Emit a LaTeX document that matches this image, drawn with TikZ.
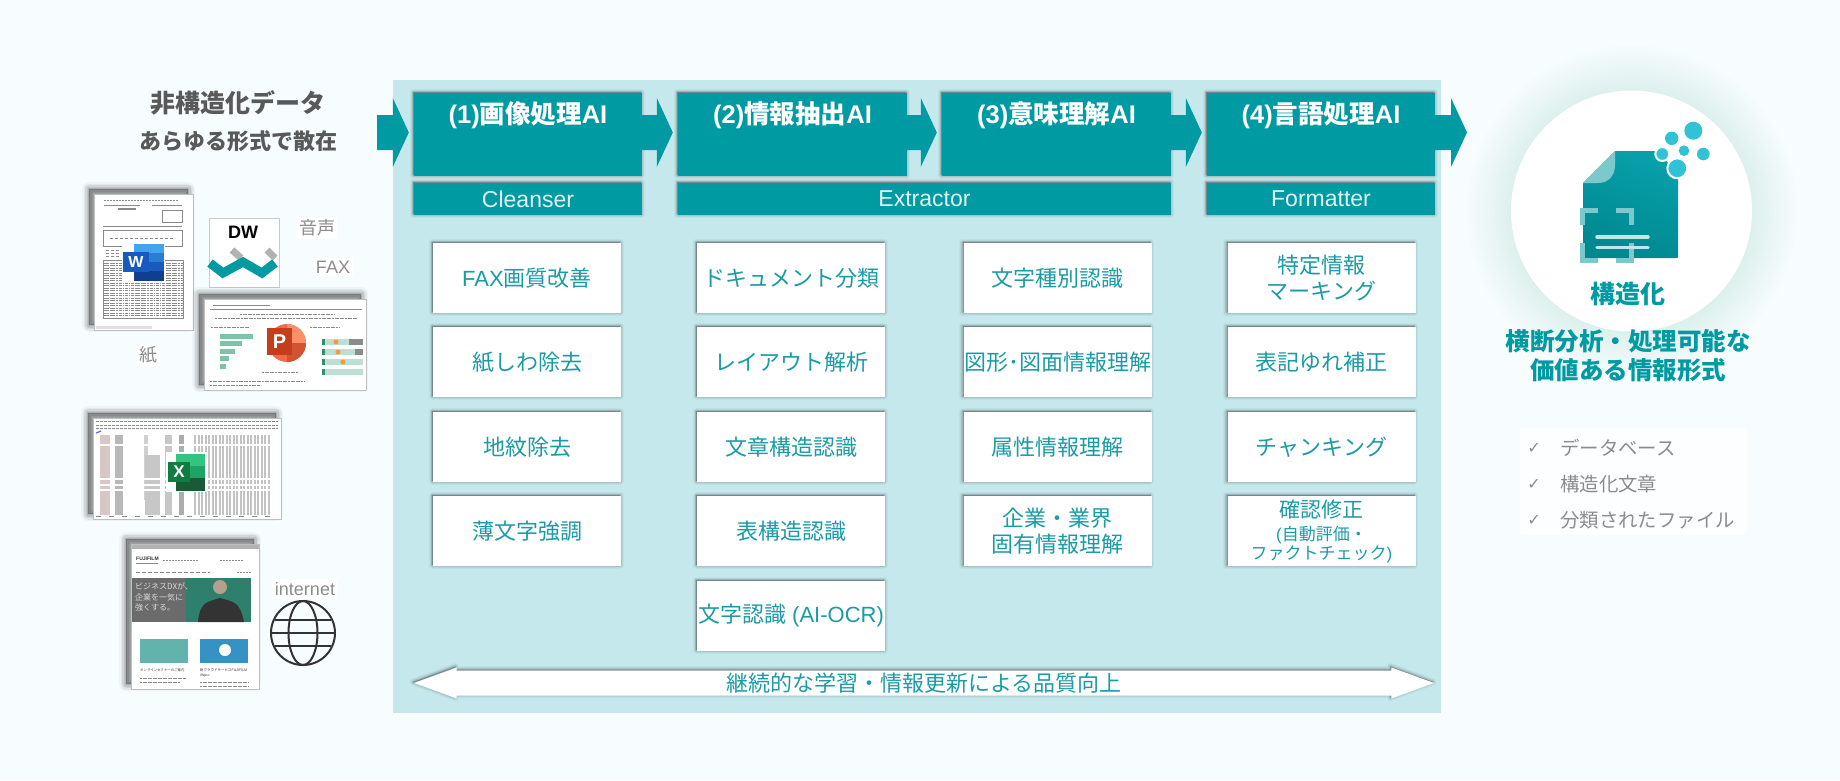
\documentclass[tikz,border=0pt]{standalone}
\usepackage{xcolor}
\usepackage{fontspec}
\usepackage{tikz}
\usetikzlibrary{calc}
\usetikzlibrary{shapes.arrows}
\usetikzlibrary{shadows}
\setmainfont{Liberation Sans}
\newfontfamily\cjk{Noto Sans CJK JP}
\newfontfamily\sym{DejaVu Sans}
\newcommand\ja[1]{{\cjk #1}}
\newcommand\fs[1]{\fontsize{#1}{#1}\selectfont\baselineskip=1.15\baselineskip}

\definecolor{bgtint}{HTML}{F7FCFE}
\definecolor{panelc}{HTML}{C5E8EC}
\definecolor{tealc}{HTML}{009AA3}
\definecolor{tealtxt}{HTML}{1B9BA5}
\definecolor{graytxt}{HTML}{8C8C8C}
\definecolor{darktxt}{HTML}{595959}
\definecolor{glowin}{HTML}{DCF0EC}
\definecolor{foldc}{HTML}{7CC9CB}
\definecolor{dotc}{HTML}{2FC3D5}
\definecolor{inkc}{HTML}{8A8A8A}
\definecolor{wdA}{HTML}{41A5EE}
\definecolor{wdB}{HTML}{2B7CD3}
\definecolor{wdC}{HTML}{185ABD}
\definecolor{wdD}{HTML}{103F91}
\definecolor{xlA}{HTML}{33C481}
\definecolor{xlB}{HTML}{21A366}
\definecolor{xlC}{HTML}{107C41}
\definecolor{xlD}{HTML}{185C37}
\definecolor{ppA}{HTML}{ED6C47}
\definecolor{ppB}{HTML}{FF8F6B}
\definecolor{ppC}{HTML}{D35230}
\definecolor{ppD}{HTML}{C43E1C}
\definecolor{barA}{HTML}{7CC4A8}
\definecolor{barB}{HTML}{BBDFD2}
\definecolor{barC}{HTML}{2F8F6F}
\definecolor{heroA}{HTML}{6B6B6B}
\definecolor{heroB}{HTML}{2F7F6D}
\definecolor{imgA}{HTML}{62B3AC}
\definecolor{imgB}{HTML}{3493C4}

\pgfdeclareradialshading{glowshade}{\pgfpointorigin}{color(0bp)=(glowin);color(18bp)=(glowin);color(25bp)=(bgtint);color(50bp)=(bgtint)}

\tikzstyle{every node}=[inner sep=0pt]
\tikzstyle{softshadow}=[
  general shadow={draw=black,fill=black,line join=round,line width=7pt,opacity=0.03,shadow xshift=-1pt,shadow yshift=1pt},
  general shadow={draw=black,fill=black,line join=round,line width=5pt,opacity=0.05,shadow xshift=-1pt,shadow yshift=1pt},
  general shadow={draw=black,fill=black,line join=round,line width=3pt,opacity=0.07,shadow xshift=-1pt,shadow yshift=1pt},
  general shadow={draw=black,fill=black,line join=round,line width=1.5pt,opacity=0.09,shadow xshift=-1pt,shadow yshift=1pt}]
\tikzstyle{pageshadow}=[
  general shadow={draw=black,fill=black,line join=round,line width=14pt,opacity=0.03,shadow xshift=-5pt,shadow yshift=5pt},
  general shadow={draw=black,fill=black,line join=round,line width=11pt,opacity=0.05,shadow xshift=-5pt,shadow yshift=5pt},
  general shadow={draw=black,fill=black,line join=round,line width=8pt,opacity=0.07,shadow xshift=-5pt,shadow yshift=5pt},
  general shadow={draw=black,fill=black,line join=round,line width=5pt,opacity=0.08,shadow xshift=-5pt,shadow yshift=5pt},
  general shadow={draw=black,fill=black,line join=round,line width=2pt,opacity=0.1,shadow xshift=-5pt,shadow yshift=5pt}]
\tikzstyle{aibox}=[rectangle, fill=tealc, softshadow, minimum height=83pt]
\tikzstyle{aititle}=[text=white, font=\fs{25.5}\bfseries]
\tikzstyle{subbox}=[rectangle, fill=tealc, softshadow, minimum height=32pt, text=white!88!tealc, font=\fs{23}]
\tikzstyle{stepbox}=[rectangle, fill=white, softshadow, minimum width=188pt, minimum height=70pt, text=tealtxt, align=center, font=\fs{22}]
\tikzstyle{flowfill}=[fill=tealc]
\tikzstyle{srclabel}=[text=graytxt, font=\fs{18}, fill=white, inner sep=3pt]
\tikzstyle{docpage}=[rectangle, fill=white, draw=black!25, line width=0.6pt, pageshadow]
\tikzstyle{inkline}=[draw=inkc, line width=0.7pt]
\tikzstyle{listlabel}=[anchor=west, text=graytxt, font=\fs{19.4}]
\tikzstyle{listcheck}=[text=graytxt, font=\fs{16}]

\newcommand\flowarrow[2]{
  \path[flowfill] ($(#1)+(0,-19.5)$) -- ($(#2)+(-21,-19.5)$) -- ($(#2)+(-21,-36.5)$) -- ($(#2)+(-5,-2)$)
    -- ($(#2)+(-21,32.5)$) -- ($(#2)+(-21,15.5)$) -- ($(#1)+(0,15.5)$) -- cycle;
}

\begin{document}
\begin{tikzpicture}[x=1pt,y=-1pt]
  \def\colA{527}
  \def\colB{791}
  \def\colC{1057.5}
  \def\colD{1321.5}
  \def\rowA{278}
  \def\rowB{362}
  \def\rowC{447}
  \def\rowD{531}
  \def\rowE{616}

  \useasboundingbox (0,0) rectangle (1840,780);
  \fill[bgtint] (0,0) rectangle (1840,780);

  \coordinate (orb) at (1631.5,211);
  \shade[shading=glowshade] (orb) circle (167pt);
  \fill[panelc] (393,80) rectangle (1441,713);

  \node[text=darktxt, font=\fs{25}\cjk\bfseries] (srctitle) at (238,103) {非構造化データ};
  \node[text=darktxt, font=\fs{22}\cjk\bfseries] (srcsub) at (238,141) {あらゆる形式で散在};

  \node[aibox, minimum width=228pt] (hdr1) at (528,134.5) {};
  \node[aibox, minimum width=229pt] (hdr2) at (792.5,134.5) {};
  \node[aibox, minimum width=229pt] (hdr3) at (1056.5,134.5) {};
  \node[aibox, minimum width=228pt] (hdr4) at (1321,134.5) {};

  \coordinate (srcin) at (377,134.5);
  \coordinate (outpt) at (1472,134.5);
  \flowarrow{srcin}{hdr1.west}
  \flowarrow{hdr1.east}{hdr2.west}
  \flowarrow{hdr2.east}{hdr3.west}
  \flowarrow{hdr3.east}{hdr4.west}
  \flowarrow{hdr4.east}{outpt}

  \node[aititle] (ttl1) at (528,115) {(1)\ja{画像処理}AI};
  \node[aititle] (ttl2) at (792.5,115) {(2)\ja{情報抽出}AI};
  \node[aititle] (ttl3) at (1056.5,115) {(3)\ja{意味理解}AI};
  \node[aititle] (ttl4) at (1321,115) {(4)\ja{言語処理}AI};

  \node[subbox, minimum width=228pt] (cleanser) at (528,199) {Cleanser};
  \node[subbox, minimum width=493pt] (extractor) at (924.5,199) {Extractor};
  \node[subbox, minimum width=228pt] (formatter) at (1321,199) {Formatter};

  \node[stepbox] (a1) at (\colA,\rowA) {FAX\ja{画質改善}};
  \node[stepbox] (a2) at (\colA,\rowB) {\ja{紙しわ除去}};
  \node[stepbox] (a3) at (\colA,\rowC) {\ja{地紋除去}};
  \node[stepbox] (a4) at (\colA,\rowD) {\ja{薄文字強調}};

  \node[stepbox] (b1) at (\colB,\rowA) {\ja{ドキュメント分類}};
  \node[stepbox] (b2) at (\colB,\rowB) {\ja{レイアウト解析}};
  \node[stepbox] (b3) at (\colB,\rowC) {\ja{文章構造認識}};
  \node[stepbox] (b4) at (\colB,\rowD) {\ja{表構造認識}};
  \node[stepbox] (b5) at (\colB,\rowE) {\ja{文字認識} (AI-OCR)};

  \node[stepbox] (c1) at (\colC,\rowA) {\ja{文字種別認識}};
  \node[stepbox] (c2) at (\colC,\rowB) {\ja{図形･図面情報理解}};
  \node[stepbox] (c3) at (\colC,\rowC) {\ja{属性情報理解}};
  \node[stepbox] (c4) at (\colC,\rowD) {\ja{企業・業界}\\\ja{固有情報理解}};

  \node[stepbox] (d1) at (\colD,\rowA) {\ja{特定情報}\\\ja{マーキング}};
  \node[stepbox] (d2) at (\colD,\rowB) {\ja{表記ゆれ補正}};
  \node[stepbox] (d3) at (\colD,\rowC) {\ja{チャンキング}};
  \node[stepbox] (d4) at (\colD,\rowD) {};
  \node[text=tealtxt, font=\fs{21}] (d4top) at (\colD,509) {\ja{確認修正}};
  \node[text=tealtxt, font=\fs{17}] (d4mid) at (\colD,535) {(\ja{自動評価・}};
  \node[text=tealtxt, font=\fs{17}] (d4low) at (\colD,554) {\ja{ファクトチェック})};

  \node[double arrow, fill=white, softshadow, minimum width=31pt, minimum height=1020pt,
    double arrow head extend=2.5pt, double arrow tip angle=40, text=tealtxt, font=\fs{22}] (learn) at (924,683)
    {\ja{継続的な学習・情報更新による品質向上}};

  \node[docpage, minimum width=99pt, minimum height=136pt] (wordpage) at (143.5,262) {};
  \draw[inkline, dash pattern=on 2pt off 1pt] (104,200) -- (178,200);
  \draw[inkline] (104,205) -- (140,205);
  \draw[inkline] (152,205) -- (182,205);
  \draw[inkline, line width=1.5pt] (118,209) -- (136,209);
  \draw[inkline] (162,210) rectangle (182,222);
  \draw[inkline] (103,226) -- (182,226);
  \draw[inkline] (103,230) rectangle (182,246);
  \draw[inkline, dash pattern=on 3pt off 2pt] (110,238) -- (175,238);
  \foreach \yy in {250,253,256}
    \draw[inkline, dash pattern=on 3pt off 2pt] (106,\yy) -- (120,\yy);
  \foreach \yy in {263,265.5,...,317}
    \draw[inkline, line width=1pt, dash pattern=on 1.5pt off 0.7pt on 3pt off 1pt] (104,\yy) -- (183,\yy);
  \draw[inkline] (103,260) rectangle (183,318);
  \fill[black!12] (96,326) rectangle (152,329);

  \fill[white] (122,242) rectangle (165,282);
  \fill[wdA] (134,244) rectangle (164,253);
  \fill[wdB] (134,253) rectangle (164,262);
  \fill[wdC] (134,262) rectangle (164,271);
  \fill[wdD] (134,271) rectangle (164,281);
  \node[rectangle, fill=wdC, minimum width=26pt, minimum height=20pt, text=white, font=\fs{16}\bfseries] (wordicon) at (136,262) {W};

  \node[rectangle, fill=white, draw=black!20, line width=0.6pt, minimum width=70pt, minimum height=69pt] (dwlogo) at (244,252.5) {};
  \node[font=\fs{18}\bfseries] (dwtext) at (243,232) {DW};
  \coordinate (dwa) at (210,263);
  \coordinate (dwb) at (223,273);
  \coordinate (dwc) at (243,262);
  \coordinate (dwd) at (262,273);
  \coordinate (dwe) at (275,263);
  \draw[black!30, line width=7pt] (232,250) -- (241,258);
  \draw[black!30, line width=7pt] (267,250) -- (275,258);
  \draw[tealc, line width=9pt, line join=miter] (dwa) -- (dwb) -- (dwc) -- (dwd) -- (dwe);

  \node[srclabel] (voice) at (317,228) {\ja{音声}};
  \node[srclabel] (fax) at (333,267) {FAX};
  \node[srclabel] (paper) at (148,355) {\ja{紙}};

  \node[docpage, minimum width=162pt, minimum height=91pt] (pptpage) at (285,344.5) {};
  \draw[inkline, line width=1pt] (213,305) -- (270,305);
  \draw[inkline, line width=0.4pt] (210,309) -- (362,309);
  \draw[inkline, line width=0.8pt, dash pattern=on 2pt off 0.6pt] (240,314) -- (335,314);
  \draw[inkline, line width=0.8pt, dash pattern=on 2pt off 0.6pt] (215,318) -- (358,318);
  \draw[inkline, line width=0.8pt, dash pattern=on 2pt off 0.6pt] (211,327) -- (250,327);
  \draw[inkline, line width=0.8pt, dash pattern=on 2pt off 0.6pt] (310,327) -- (340,327);
  \fill[barA] (220,333.5) rectangle (253,338.5);
  \fill[barA] (220,341) rectangle (242,346);
  \fill[barA] (220,348.5) rectangle (235,353.5);
  \fill[barA] (220,356) rectangle (229,361);
  \fill[barA] (220,363.5) rectangle (226,368.5);
  \foreach \yy in {342,352,362,372} {
    \fill[barB] (322,\yy-3) rectangle (363,\yy+3);
    \fill[barC] (322,\yy-3) rectangle (325,\yy+3);
  }
  \fill[black!45] (349,339) rectangle (363,345);
  \fill[black!45] (355,349) rectangle (363,355);
  \fill[orange!80] (336,342) circle (2.5pt);
  \fill[orange!80] (338,352) circle (2.5pt);
  \fill[orange!80] (343,362) circle (2.5pt);
  \draw[inkline, line width=0.7pt, dash pattern=on 2pt off 0.6pt] (210,381) -- (305,381);
  \draw[inkline, line width=0.7pt, dash pattern=on 2pt off 0.6pt] (210,385) -- (260,385);
  \draw[inkline, line width=0.7pt, dash pattern=on 2pt off 0.6pt] (262,372) -- (298,372);
  \coordinate (pptc) at (287,343);
  \fill[white] (263,322) rectangle (310,366);
  \fill[ppA] (pptc) circle (19pt);
  \fill[ppB] (pptc) -- (306,343) arc (0:90:19pt) -- cycle;
  \fill[ppC] (pptc) -- (306,343) arc (0:-90:19pt) -- cycle;
  \node[rectangle, fill=ppD, minimum width=25pt, minimum height=27pt, text=white, font=\fs{20}\bfseries] (ppticon) at (279.5,341.5) {P};

  \node[docpage, minimum width=188pt, minimum height=101pt] (xlspage) at (187,468.5) {};
  \foreach \yy in {421,425,428}
    \draw[inkline, line width=0.7pt, dash pattern=on 3pt off 1pt] (96,\yy) -- (278,\yy);
  \draw[blue!60, line width=1.2pt] (96,433) -- (101,431);
  \fill[red!30!black!22] (100,435) rectangle (110,515);
  \fill[black!28] (115,435) rectangle (123,515);
  \fill[black!18] (144,435) rectangle (148,500);
  \fill[black!22] (145,455) rectangle (160,515);
  \fill[black!22] (165,435) rectangle (172,515);
  \fill[black!32] (179,435) rectangle (184,515);
  \foreach \xx in {194,197.5,201,204.5,208,211.5,215,218.5,222,225.5,229,232.5,236,239.5,243,246.5,250,253.5,257,260.5,264,267.5}
    \fill[black!24] (\xx,435) rectangle (\xx+2.2,515);
  \foreach \yy in {444,478,484,489}
    \fill[white] (94,\yy) rectangle (278,\yy+1.6);
  \fill[white] (125,470) rectangle (142,515);
  \draw[inkline, line width=0.6pt, dash pattern=on 5pt off 8pt] (96,516) -- (278,516);
  \fill[white] (166,452) rectangle (207,492);
  \fill[xlA] (176,454) rectangle (205,466);
  \fill[xlB] (176,466) rectangle (205,478);
  \fill[xlD] (176,478) rectangle (205,491);
  \node[rectangle, fill=xlC, minimum width=22pt, minimum height=20pt, text=white, font=\fs{17}\bfseries] (xlsicon) at (179,472) {X};

  \node[docpage, minimum width=128pt, minimum height=145pt] (webpage) at (195,616.5) {};
  \fill[black!30] (131.5,544.5) rectangle (258.5,549);
  \node[anchor=west, font=\fs{5}\bfseries, text=black!80] (fflogo) at (136,559) {FUJIFILM};
  \draw[inkline, line width=0.5pt] (136,563.5) -- (158,563.5);
  \draw[inkline, line width=0.6pt, dash pattern=on 2pt off 1pt] (163,560) -- (198,560);
  \draw[inkline, line width=0.6pt, dash pattern=on 2pt off 1pt] (220,560) -- (243,560);
  \draw[inkline, line width=0.6pt, dash pattern=on 4pt off 2pt] (136,572) -- (210,572);
  \draw[inkline, line width=0.6pt, dash pattern=on 2pt off 1pt] (237,572) -- (251,572);
  \fill[heroA] (131.5,578) rectangle (186,622);
  \fill[heroB] (186,578) rectangle (251,622);
  \fill[black!80] (198,622) .. controls (200,601) and (208,602) .. (220,598) .. controls (233,602) and (240,601) .. (244,622) -- cycle;
  \fill[orange!35!black!45!white] (220,587) circle (7pt);
  \node[anchor=west, align=left, text=white!85!black, font=\fs{8}] (herotext) at (135,597)
    {\ja{ビジネスDXが、}\\[1.3pt]\ja{企業を一気に}\\[1.3pt]\ja{強くする。}};
  \fill[imgA] (140,639) rectangle (188,663);
  \fill[imgB] (200,639) rectangle (248,663);
  \fill[white] (225,650) circle (6pt);
  \node[anchor=west, font=\fs{3.4}, text=black!80] (capa) at (140,670) {\ja{オンラインセミナーのご案内}};
  \node[anchor=west, font=\fs{3.5}, text=black!80] (capb) at (200,670) {\ja{新クラウドサービス}FUJIFILM};
  \node[anchor=west, font=\fs{3.5}, text=black!80] (capc) at (200,676) {IWpro};
  \draw[inkline, line width=0.6pt, dash pattern=on 2pt off 0.5pt] (140,678) -- (186,678);
  \draw[inkline, line width=0.6pt, dash pattern=on 2pt off 0.5pt] (140,682) -- (180,682);
  \draw[inkline, line width=0.6pt, dash pattern=on 2pt off 0.5pt] (200,682) -- (248,682);
  \draw[inkline, line width=0.6pt, dash pattern=on 2pt off 0.5pt] (200,686) -- (248,686);

  \node[srclabel] (inet) at (305,589) {internet};
  \coordinate (globe) at (303,633);
  \draw[black!80, line width=2pt] (globe) circle (32pt);
  \draw[black!80, line width=2pt] (globe) ellipse (14.5pt and 32pt);
  \draw[black!80, line width=2pt] ($(globe)+(-28,-13)$) -- ($(globe)+(28,-13)$);
  \draw[black!80, line width=2pt] ($(globe)+(-28,13)$) -- ($(globe)+(28,13)$);
  \draw[black!80, line width=2pt] ($(globe)+(-32,0)$) -- ($(globe)+(32,0)$);

  \fill[white] (orb) circle (120.5pt);
  \shade[top color=tealc!85!dotc, bottom color=tealc!88!black, shading angle=-20, rounded corners=1pt]
    (1583,183) -- (1615,151) -- (1660,151) -- (1678,178) -- (1678,258) -- (1583,258) -- cycle;
  \fill[foldc] (1583,183) -- (1615,151) -- (1615,165) .. controls (1615,176) and (1608,183) .. (1598,183) -- cycle;
  \draw[foldc, line width=5pt] (1582.5,225) -- (1582.5,210.5) -- (1598,210.5);
  \draw[foldc, line width=5pt] (1616,210.5) -- (1631,210.5) -- (1631,225);
  \draw[foldc, line width=5pt] (1582.5,243) -- (1582.5,260) -- (1598,260);
  \draw[foldc, line width=5pt] (1616,260) -- (1631,260) -- (1631,243);
  \draw[white!75!tealc, line width=3.5pt, line cap=round] (1597,237) -- (1648,237);
  \draw[white!75!tealc, line width=3.5pt, line cap=round] (1597,247.5) -- (1648,247.5);
  \fill[dotc] (1693.3,130.7) circle (9pt);
  \fill[dotc] (1671.7,138.3) circle (6.7pt);
  \fill[dotc] (1684,150.7) circle (5.3pt);
  \fill[dotc] (1703.3,154) circle (6.3pt);
  \filldraw[dotc, draw=white, line width=2pt] (1662.3,154) circle (7pt);
  \filldraw[dotc, draw=white, line width=2pt] (1677.3,168.3) circle (10pt);

  \node[text=tealc, font=\fs{25}\cjk\bfseries] (orbtitle) at (1628,294) {構造化};
  \node[text=tealc, font=\fs{24.5}\cjk\bfseries] (orbsub) at (1628,341) {横断分析・処理可能な};
  \node[text=tealc, font=\fs{24.5}\cjk\bfseries] (orblow) at (1628,370) {価値ある情報形式};

  \fill[white!70!bgtint, rounded corners=3pt] (1520,428) rectangle (1747,535);
  \node[listcheck] (chk1) at (1534,448) {\sym ✓};
  \node[listcheck] (chk2) at (1534,484) {\sym ✓};
  \node[listcheck] (chk3) at (1534,520) {\sym ✓};
  \node[listlabel] (lst1) at (1560,448) {\ja{データベース}};
  \node[listlabel] (lst2) at (1560,484) {\ja{構造化文章}};
  \node[listlabel] (lst3) at (1560,520) {\ja{分類されたファイル}};
\end{tikzpicture}
\end{document}
